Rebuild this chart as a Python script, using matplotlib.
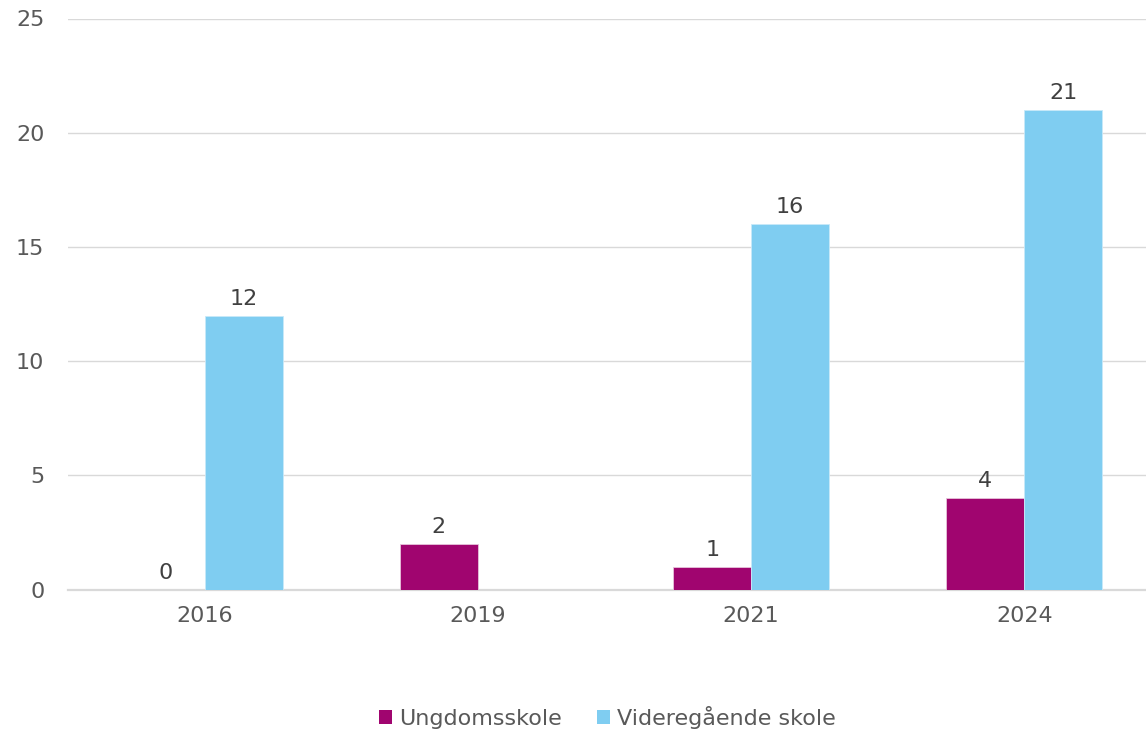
import numpy as np
import matplotlib
matplotlib.use("Agg")
import matplotlib.pyplot as plt
from matplotlib.patches import Patch

categories = ["2016", "2019", "2021", "2024"]
ungdomsskole = [0, 2, 1, 4]
videregaende = [12, np.nan, 16, 21]
series_names = ["Ungdomsskole", "Videregående skole"]
yticks = [0, 5, 10, 15, 20, 25]

c_ung = "#A0056F"
c_vid = "#7FCDF1"
text_c = "#595959"
label_c = "#404040"

plt.rcParams["font.family"] = ["DejaVu Sans"]

fig = plt.figure(figsize=(11.46, 7.31), dpi=100)
ax = fig.add_axes([68 / 1146, (731 - 589.7) / 731, 1 - 68 / 1146, (589.7 - 18.5) / 731])

x = np.arange(len(categories))
w = 0.285
b1 = ax.bar(x - w / 2, ungdomsskole, w, color=c_ung, edgecolor="#E6C3DA", linewidth=0.6, zorder=3)
b2 = ax.bar(x + w / 2, videregaende, w, color=c_vid, edgecolor="#C8E9F9", linewidth=0.6, zorder=3)

for bars, vals in ((b1, ungdomsskole), (b2, videregaende)):
    for rect, v in zip(bars, vals):
        if np.isnan(v):
            continue
        ax.annotate(f"{int(v)}", (rect.get_x() + rect.get_width() / 2, v),
                    xytext=(0, 5), textcoords="offset points",
                    ha="center", va="bottom", fontsize=16, color=label_c)

ax.set_ylim(0, 25)
ax.set_yticks(yticks)
ax.set_xlim(-0.5, 3.5 - 15 / 273.3)
ax.set_xticks(x)
ax.set_xticklabels(categories)
ax.grid(axis="y", color="#D9D9D9", linewidth=1.0, zorder=0)
ax.axhline(0, color="#D9D9D9", linewidth=1.6, zorder=2, clip_on=False)
ax.set_axisbelow(True)
for s in ax.spines.values():
    s.set_visible(False)
ax.tick_params(axis="both", length=0, labelsize=16, colors=text_c)
ax.tick_params(axis="y", pad=17)
ax.tick_params(axis="x", pad=12)

handles = [Patch(facecolor=c_ung), Patch(facecolor=c_vid)]
fig.legend(handles, series_names, loc="center", bbox_to_anchor=(0.53, 0.019),
           ncol=2, frameon=False, fontsize=16, labelcolor=text_c,
           handlelength=0.6, handleheight=0.6, handletextpad=0.3, columnspacing=1.6)

fig.savefig("out.png", dpi=100)
